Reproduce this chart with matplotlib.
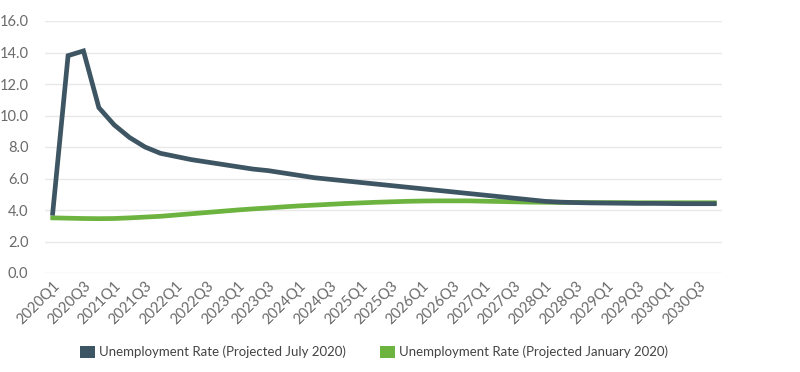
import matplotlib
matplotlib.use("Agg")
import matplotlib.pyplot as plt
from matplotlib.patches import Patch

quarters = [f"{y}Q{q}" for y in range(2020, 2031) for q in range(1, 5)]

july_2020 = [
    3.8, 13.8, 14.1, 10.5,
    9.4, 8.6, 8.0, 7.6,
    7.4, 7.2, 7.05, 6.9,
    6.75, 6.6, 6.5, 6.35,
    6.2, 6.05, 5.95, 5.85,
    5.75, 5.65, 5.55, 5.45,
    5.35, 5.25, 5.15, 5.05,
    4.95, 4.85, 4.75, 4.65,
    4.55, 4.5, 4.47, 4.45,
    4.44, 4.43, 4.42, 4.42,
    4.41, 4.4, 4.4, 4.4,
]

jan_2020 = [
    3.5, 3.48, 3.46, 3.45,
    3.46, 3.5, 3.55, 3.6,
    3.68, 3.76, 3.84, 3.92,
    4.0, 4.07, 4.13, 4.2,
    4.26, 4.31, 4.36, 4.41,
    4.45, 4.49, 4.52, 4.55,
    4.57, 4.58, 4.58, 4.58,
    4.56, 4.54, 4.52, 4.5,
    4.49, 4.48, 4.48, 4.47,
    4.47, 4.47, 4.46, 4.46,
    4.46, 4.46, 4.46, 4.46,
]

dark = "#3e5663"
green = "#6db33f"
grey = "#6a6a6a"

plt.rcParams["font.family"] = ["Lato", "DejaVu Sans"]

fig = plt.figure(figsize=(8, 3.72), dpi=100)
ax = fig.add_axes([45 / 800, 99 / 372, 677 / 800, 252 / 372])

x = list(range(len(quarters)))
ax.plot(x, july_2020, color=dark, lw=3.4, solid_joinstyle="miter", zorder=3)
ax.plot(x, jan_2020, color=green, lw=3.4, zorder=2)

ax.set_xlim(-0.5, len(quarters) - 0.5)
ax.set_ylim(0, 16)
ax.set_yticks(range(0, 17, 2))
ax.set_yticklabels([f"{v:.1f}" for v in range(0, 17, 2)])
ax.set_xticks(x[::2])
ax.set_xticklabels(quarters[::2], rotation=45, ha="right", rotation_mode="anchor")

ax.tick_params(axis="both", length=0, colors=grey, labelsize=10.5)
ax.tick_params(axis="y", pad=12)
ax.tick_params(axis="x", pad=4)
ax.grid(axis="y", color="#e8e8e8", lw=1)
ax.set_axisbelow(True)
for s in ax.spines.values():
    s.set_visible(False)

handles = [
    Patch(facecolor=dark, label="Unemployment Rate (Projected July 2020)"),
    Patch(facecolor=green, label="Unemployment Rate (Projected January 2020)"),
]
fig.legend(handles=handles, loc="center", bbox_to_anchor=(374 / 800, 1 - 352 / 372),
           ncol=2, frameon=False, fontsize=9.5, handlelength=1.1, handleheight=1.1,
           handletextpad=0.3, columnspacing=2.6, labelcolor="#444444")

fig.savefig("out.png", dpi=100)
